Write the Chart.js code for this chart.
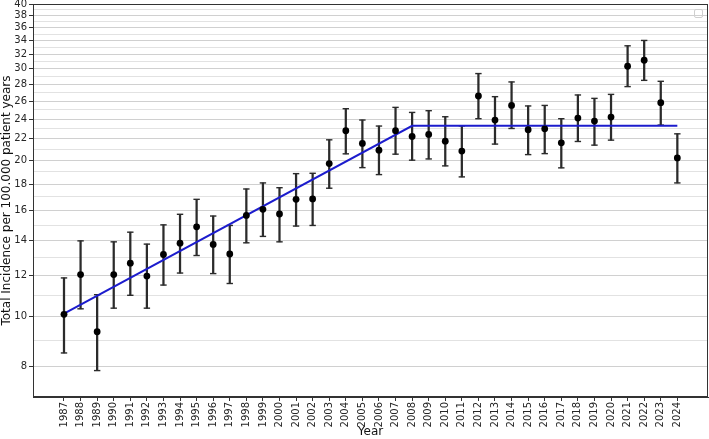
<!DOCTYPE html>
<html>
<head>
<meta charset="utf-8">
<script src="https://cdn.jsdelivr.net/npm/chart.js@4/dist/chart.umd.min.js"></script>
<style>
    html, body { margin: 0; padding: 0; background: #fff; }
    #wrap { width: 709px; height: 439px; }
</style>
</head>
<body>
<div id="wrap"><canvas id="incidence-chart"></canvas></div>
<script>
const years = [1987, 1988, 1989, 1990, 1991, 1992, 1993, 1994, 1995, 1996, 1997, 1998, 1999,
    2000, 2001, 2002, 2003, 2004, 2005, 2006, 2007, 2008, 2009, 2010, 2011, 2012, 2013,
    2014, 2015, 2016, 2017, 2018, 2019, 2020, 2021, 2022, 2023, 2024];
const incidence = [10.10, 12.05, 9.35, 12.05, 12.67, 11.97, 13.17, 13.85, 14.89, 13.77, 13.20, 15.66, 16.09,
    15.76, 16.82, 16.85, 19.71, 22.80, 21.55, 20.92, 22.80, 22.23, 22.43, 21.77, 20.83, 26.60, 23.91,
    25.51, 22.90, 23.00, 21.61, 24.12, 23.80, 24.23, 30.35, 31.17, 25.82, 20.21];
const upper = [11.87, 13.99, 11.02, 13.93, 14.54, 13.79, 15.02, 15.74, 16.82, 15.62, 14.98, 17.61, 18.09,
    17.71, 18.85, 18.88, 21.90, 25.14, 23.91, 23.28, 25.29, 24.73, 24.92, 24.26, 23.30, 29.38, 26.52,
    28.31, 25.45, 25.51, 24.05, 26.72, 26.32, 26.79, 33.23, 34.03, 28.39, 22.49];
const lower = [8.51, 10.35, 7.87, 10.38, 10.99, 10.38, 11.50, 12.13, 13.11, 12.10, 11.58, 13.87, 14.27,
    13.93, 14.94, 14.98, 17.67, 20.58, 19.36, 18.77, 20.55, 20.01, 20.12, 19.51, 18.58, 24.05, 21.49,
    23.03, 20.51, 20.60, 19.34, 21.74, 21.39, 21.87, 27.73, 28.51, 23.38, 18.09];

// piecewise trend (joinpoint at 2008)
const trendYears = [1987, 2008, 2024];
const trendValues = [10.13, 23.31, 23.31];

const yTickLabels = [8, 10, 12, 14, 16, 18, 20, 22, 24, 26, 28, 30, 32, 34, 36, 38, 40];
const yGridValues = [];
for (let v = 7; v <= 40; v++) yGridValues.push(v);

const TXT = '#262626';
const BAR = '#2b2b2b';

const frame = {
    id: 'frame',
    afterDraw(chart) {
        const { ctx, chartArea: a } = chart;
        ctx.save();
        ctx.strokeStyle = '#333';
        ctx.lineWidth = 1;
        ctx.strokeRect(a.left + 0.5, a.top + 0.5, a.right - a.left - 1, a.bottom - a.top - 1);
        // empty legend box
        ctx.strokeStyle = '#cfcfcf';
        ctx.beginPath();
        ctx.roundRect(694.5, 9.5, 8, 8, 1.5);
        ctx.stroke();
        ctx.restore();
    }
};

const ctx = document.getElementById('incidence-chart').getContext('2d');
new Chart(ctx, {
    type: 'scatter',
    data: {
        datasets: [
            {
                type: 'scatter',
                label: 'Incidence',
                data: years.map((y, i) => ({ x: y, y: incidence[i] })),
                backgroundColor: '#000',
                borderWidth: 0,
                pointRadius: 3.4,
                order: 0,
            },
            {
                type: 'line',
                label: 'Trend',
                data: trendYears.map((y, i) => ({ x: y, y: trendValues[i] })),
                borderColor: 'rgb(28, 28, 205)',
                borderWidth: 2,
                pointRadius: 0,
                fill: false,
                tension: 0,
                order: 1,
            },
            {
                type: 'scatter',
                label: 'upper cap',
                data: years.map((y, i) => ({ x: y, y: upper[i] })),
                pointStyle: 'line',
                pointRadius: 3.2,
                borderColor: BAR,
                borderWidth: 1.4,
                order: 2,
            },
            {
                type: 'scatter',
                label: 'lower cap',
                data: years.map((y, i) => ({ x: y, y: lower[i] })),
                pointStyle: 'line',
                pointRadius: 3.2,
                borderColor: BAR,
                borderWidth: 1.4,
                order: 2,
            },
            {
                type: 'bar',
                label: 'CI',
                data: years.map((y, i) => ({ x: y, y: [lower[i], upper[i]] })),
                backgroundColor: BAR,
                borderWidth: 0,
                barThickness: 1.6,
                order: 3,
            }
        ]
    },
    options: {
        responsive: true,
        maintainAspectRatio: false,
        animation: false,
        layout: { autoPadding: false, padding: { top: 4, right: 1, left: 0, bottom: 0 } },
        plugins: {
            legend: { display: false },
            tooltip: { enabled: false },
        },
        scales: {
            x: {
                type: 'linear',
                offset: false,
                min: 1985.13,
                max: 2025.85,
                afterBuildTicks: (axis) => { axis.ticks = years.map(v => ({ value: v })); },
                afterFit: (scale) => {
                    scale.height = 42;
                    scale.paddingLeft = 0;
                    scale.paddingRight = 0;
                },
                grid: {
                    offset: false,
                    drawOnChartArea: false,
                    drawTicks: true,
                    tickLength: 4,
                    tickColor: '#333',
                },
                border: { display: true, color: '#333' },
                ticks: {
                    autoSkip: false,
                    minRotation: 90,
                    maxRotation: 90,
                    padding: 1,
                    color: TXT,
                    font: { family: 'DejaVu Sans', size: 10 },
                    callback: (v) => String(v),
                },
                title: {
                    display: true,
                    text: 'Year',
                    color: '#111',
                    padding: 0,
                    font: { family: 'DejaVu Sans', size: 12 },
                }
            },
            y: {
                type: 'logarithmic',
                min: 7,
                max: 40,
                afterBuildTicks: (axis) => { axis.ticks = yGridValues.map(v => ({ value: v })); },
                afterFit: (scale) => {
                    scale.width = 33;
                    scale.paddingTop = 0;
                    scale.paddingBottom = 0;
                },
                grid: {
                    color: (c) => yTickLabels.includes(c.tick.value) ? '#d0d0d0' : '#e2e2e2',
                    tickColor: (c) => yTickLabels.includes(c.tick.value) ? '#333' : 'rgba(0,0,0,0)',
                    tickLength: 4,
                    lineWidth: 1,
                },
                border: { display: true, color: '#333' },
                ticks: {
                    autoSkip: false,
                    padding: 2,
                    color: TXT,
                    font: { family: 'DejaVu Sans', size: 10 },
                    callback: (v) => yTickLabels.includes(v) ? String(v) : '',
                },
                title: {
                    display: true,
                    text: 'Total Incidence per 100.000 patient years',
                    color: '#111',
                    padding: 0,
                    font: { family: 'DejaVu Sans', size: 12 },
                }
            }
        }
    },
    plugins: [frame]
});
</script>
</body>
</html>
